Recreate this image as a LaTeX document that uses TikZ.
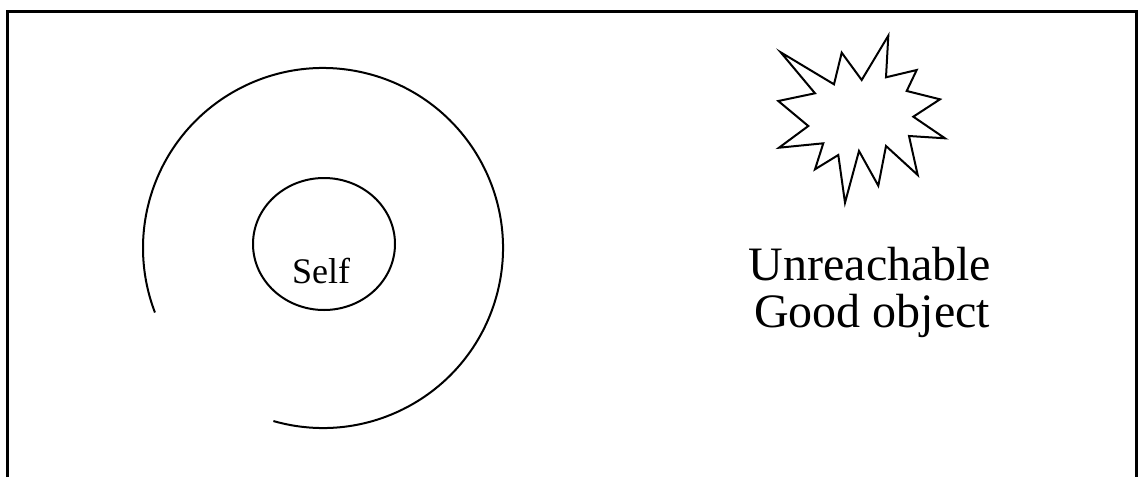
\documentclass[tikz,border=0pt]{standalone}
\usepackage{fontspec}
\setmainfont{Liberation Serif}
\tikzset{
  ink/.style={draw=black, line width=2pt, line join=miter},
  bigtext/.style={anchor=base, inner sep=0pt, font=\fontsize{48}{48}\selectfont},
  smalltext/.style={anchor=base, inner sep=0pt, font=\fontsize{36}{36}\selectfont}
}
\begin{document}
\begin{tikzpicture}[x=1pt,y=-1pt]
\useasboundingbox (0,0) rectangle (1138,477);
% frame (open at the bottom)
\draw[ink, line width=2.2pt] (7.5,477) -- (7.5,11.5) -- (1136.5,11.5) -- (1136.5,477);
% outer open arc
\coordinate (c) at (323,248);
\draw[ink] ([shift={(106:180)}]c) arc[start angle=106, end angle=-201, radius=180];
% inner circle (self)
\draw[ink] (324,244) ellipse[x radius=71, y radius=66];
\node[smalltext] (self) at (321,283.5) {Self};
% star
\draw[ink] (780.7,52.3) -- (834,84.3) -- (841.7,52.7) -- (861.7,80) -- (888.3,35.7) -- (886,77.3)
  -- (916.7,70) -- (906.7,91) -- (940,99.3) -- (913.3,116.7) -- (945,138.3) -- (909,136)
  -- (917.7,175) -- (886,146) -- (878.3,185.7) -- (859,151) -- (845,202.7) -- (838.3,155)
  -- (815,169.3) -- (823.3,143.3) -- (779,147.7) -- (808.3,126) -- (778.3,101) -- (815,93.3) -- cycle;
\node[bigtext] (l1) at (870,280) {Unreachable};
\node[bigtext] (l2) at (872,327) {Good object};
\end{tikzpicture}
\end{document}
